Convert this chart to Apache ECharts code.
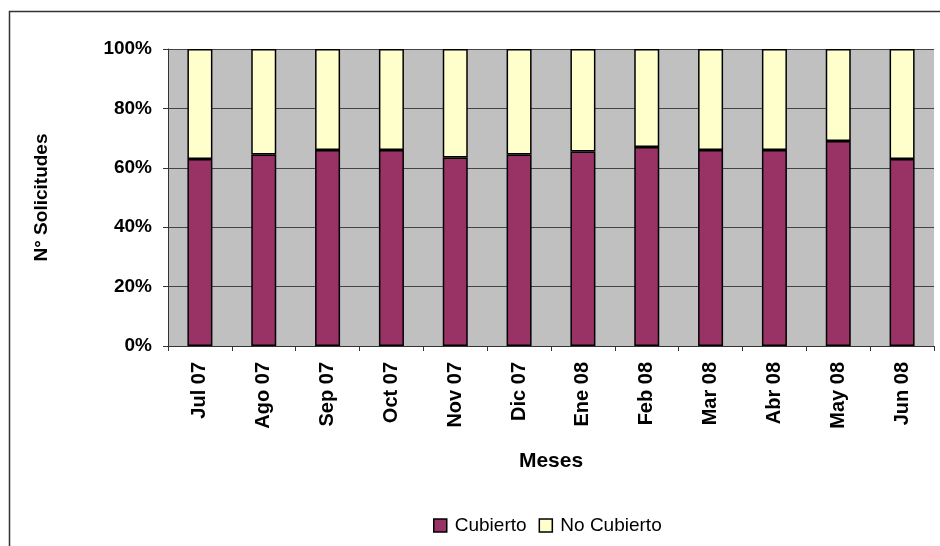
<!DOCTYPE html>
<html>
<head>
<meta charset="utf-8">
<script src="https://cdn.jsdelivr.net/npm/echarts@6/dist/echarts.min.js"></script>
<style>html,body{margin:0;padding:0;background:#fff}#c{width:940px;height:546px}</style>
</head>
<body>
<div id="c"></div>
<script>
var categories = ['Jul 07','Ago 07','Sep 07','Oct 07','Nov 07','Dic 07','Ene 08','Feb 08','Mar 08','Abr 08','May 08','Jun 08'];
var cubierto = [63, 64.5, 66, 66, 63.5, 64.5, 65.5, 67, 66, 66, 69, 63];
var noCubierto = [37, 35.5, 34, 34, 36.5, 35.5, 34.5, 33, 34, 34, 31, 37];
var yTicks = [0, 20, 40, 60, 80, 100];

var FONT = 'Arial, "Liberation Sans", sans-serif';
var chart = echarts.init(document.getElementById('c'), null, {renderer: 'canvas'});
chart.setOption({
  animation: false,
  backgroundColor: '#ffffff',
  graphic: [{
    type: 'rect', left: 7, top: 9, z: -1,
    shape: {width: 960, height: 600},
    style: {fill: 'none', stroke: '#333333', lineWidth: 1.5}
  }],
  grid: {
    left: 168, right: 6, top: 49, bottom: 200,
    show: true, backgroundColor: '#c0c0c0', borderWidth: 0
  },
  legend: {
    top: 511, left: 428,
    itemWidth: 13, itemHeight: 13, itemGap: 12,
    textStyle: {fontFamily: FONT, fontSize: 19, color: '#000', padding: [0, 0, 0, 3]},
    data: [
      {name: 'Cubierto', icon: 'rect', itemStyle: {color: '#993366', borderColor: '#000', borderWidth: 1.5}},
      {name: 'No Cubierto', icon: 'rect', itemStyle: {color: '#FFFFCC', borderColor: '#000', borderWidth: 1.5}}
    ]
  },
  xAxis: {
    type: 'category', data: categories,
    name: 'Meses', nameLocation: 'middle', nameGap: 105,
    nameTextStyle: {fontFamily: FONT, fontSize: 21, fontWeight: 'bold', color: '#000'},
    axisLine: {show: true, lineStyle: {color: '#333', width: 1}},
    axisTick: {show: true, length: 5, lineStyle: {color: '#333'}},
    axisLabel: {rotate: 90, margin: 16, fontFamily: FONT, fontSize: 20, fontWeight: 'bold', color: '#000'},
    splitLine: {show: false}
  },
  yAxis: {
    type: 'value', min: 0, max: 100, interval: 20,
    name: 'N° Solicitudes', nameLocation: 'middle', nameGap: 117, nameRotate: 90,
    nameTextStyle: {fontFamily: FONT, fontSize: 19, fontWeight: 'bold', color: '#000'},
    axisLine: {show: true, lineStyle: {color: '#333', width: 1}},
    axisTick: {show: true, length: 5, lineStyle: {color: '#333'}},
    axisLabel: {
      margin: 16, fontFamily: FONT, fontSize: 19, fontWeight: 'bold', color: '#000',
      formatter: function (v) { return yTicks.indexOf(v) >= 0 ? v + '%' : ''; }
    },
    splitLine: {show: true, lineStyle: {color: '#444444', width: 1}}
  },
  series: [
    {
      name: 'Cubierto', type: 'bar', stack: 'total', barWidth: 25, data: cubierto,
      itemStyle: {color: '#993366', borderColor: '#000', borderWidth: 1.5}
    },
    {
      name: 'No Cubierto', type: 'bar', stack: 'total', barWidth: 25, data: noCubierto,
      itemStyle: {color: '#FFFFCC', borderColor: '#000', borderWidth: 1.5}
    }
  ]
});
</script>
</body>
</html>
